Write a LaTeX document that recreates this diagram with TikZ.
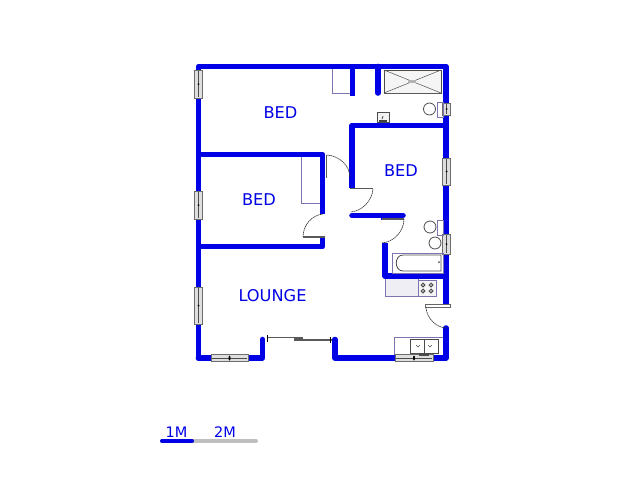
\documentclass[tikz,border=0pt]{standalone}
\usepackage{fontspec}
\setmainfont{DejaVu Sans}
\definecolor{wallblue}{RGB}{0,0,230}
\definecolor{fix}{RGB}{125,115,175}
\tikzset{
  wall/.style={draw=wallblue,line width=5.6pt,line join=round,line cap=round},
  wallb/.style={draw=wallblue,line width=5.6pt,line join=round,line cap=butt},
  win/.style={draw=gray!85!black,fill=gray!25,line width=0.8pt},
  bar/.style={draw=gray!70!black,line width=1.6pt},
  swing/.style={draw=black!80,line width=0.6pt,densely dashed,dash pattern=on 1.5pt off 0.5pt},
  fit/.style={draw=fix,line width=0.8pt},
  san/.style={draw=black!70,line width=0.8pt},
  lbl/.style={text=wallblue,font=\fontsize{16.2}{17}\selectfont,inner sep=0pt,anchor=center},
  scl/.style={text=wallblue,font=\fontsize{14.5}{15}\selectfont,inner sep=0pt,anchor=center}
}
\newcommand{\vwin}[3]{%
  \draw[win] (#1-3.7,#2) rectangle (#1+3.7,#3);
  \draw[draw=gray!60!black,line width=1pt] (#1,#2+1) -- (#1,#3-1);
  \fill[black] (#1,{(#2+#3)/2}) circle (1pt);}
\newcommand{\hwin}[3]{%
  \draw[win] (#1,#3-3.7) rectangle (#2,#3+3.7);
  \draw[draw=gray!60!black,line width=1pt] (#1+1,#3) -- (#2-1,#3);
  \fill[black] ({(#1+#2)/2},#3) ellipse (1pt and 2.5pt);}
\begin{document}
\begin{tikzpicture}[x=1pt,y=-1pt]
\useasboundingbox (0,0) rectangle (640,480);
% fixtures under the walls
\draw[fit] (332,68) rectangle (352,93);
\draw[fit] (301,155) rectangle (322,203);
\draw[fit,fill=fix!12] (385,278) rectangle (418,296);
\draw[fit] (394,337) rectangle (444,356);
% walls
\draw[wall] (198.5,358) -- (198.5,66.5) -- (446,66.5) -- (446,305);
\draw[wall] (446,328) -- (446,358) -- (335,358) -- (335,339.5);
\draw[wall] (198.5,358) -- (262.5,358) -- (262.5,339.5);
\draw[wallb] (198.5,154.5) -- (322.5,154.5) -- (322.5,214);
\draw[wallb] (198.5,246.5) -- (322.5,246.5) -- (322.5,238);
\draw[wallb] (352.5,66.5) -- (352.5,96);
\draw[wall] (378,66.5) -- (378,93);
\draw[wallb] (446,125.5) -- (352,125.5) -- (352,188);
\draw[wall] (352,215.5) -- (403,215.5);
\fill[wallblue] (381,216) rectangle (388,220);
\draw[wallb] (385,243) -- (385,276) -- (446,276);
% doors
\draw[bar] (326.5,155) -- (326.5,178);
\draw[swing] (327,155) .. controls (340,156) and (350,166) .. (350,178);
\draw[bar] (350,188.5) -- (373,188.5);
\draw[swing] (373,189) .. controls (372,201) and (362,211) .. (351,212);
\draw[swing] (323,214) .. controls (312,215) and (303,225) .. (303,237);
\draw[bar] (303,237) -- (325,237);
\draw[bar] (382,219) -- (404,219);
\draw[swing] (404,219) .. controls (404,231) and (394,242) .. (382,243);
\draw[draw=gray!80!black,fill=white,line width=0.7pt] (425,304.5) rectangle (450,307.5);
\draw[swing] (426,308) .. controls (427,318) and (436,328) .. (447,328);
% sliding door
\draw[bar] (267,337.5) -- (298,337.5);
\draw[bar] (298,340) -- (332,340);
\fill[gray!70!black] (294,337) rectangle (303,341);
\draw[black,line width=0.8pt] (267,335) -- (267,342);
\draw[black,line width=0.8pt] (330,337) -- (330,343);
% windows
\vwin{198.5}{70}{98}
\vwin{198.5}{191}{219}
\vwin{198.5}{287}{324}
\vwin{446.5}{103}{115}
\vwin{446.5}{158}{185}
\vwin{446.5}{234}{254}
\hwin{211}{248}{358}
\hwin{395}{433}{358}
% shower
\draw[san,fill=gray!8] (384,70) rectangle (441,93);
\draw[san,line width=0.5pt] (384,70) -- (441,93) (384,93) -- (441,70);
\fill[gray!60] (408,80) rectangle (416,83);
\draw[bar,line width=1.2pt] (384,93.5) -- (441,93.5);
% basin top
\draw[san,fill=gray!10] (377,112) rectangle (389,122);
\fill[black!75] (379,120) rectangle (387,122);
\draw[san] (383,116) -- (382,119);
% toilets
\draw[san] (429.5,109) circle (6pt);
\draw[fit] (437,102) rectangle (443,117);
\draw[san] (430,227) circle (6pt);
\draw[fit] (437,220) rectangle (443,235);
% basin bath room
\draw[san] (435,243) circle (6pt);
\draw[fit] (392,253) rectangle (443,273);
\draw[san] (441,255) -- (403,255) .. controls (394,255) and (394,271) .. (403,271) -- (441,271) -- cycle;
\fill[black!70] (439,262) circle (1pt);
% stove
\draw[fit,fill=gray!8] (418,280) rectangle (436,296);
\foreach \a/\b in {423/285,431/285,423/291,431/291}{\draw[san,line width=1pt] (\a,\b) circle (1.8pt);}
% sink
\draw[san] (410,339) rectangle (424,353);
\draw[san] (424,339) rectangle (438,353);
\draw[san,line width=0.5pt] (416,345) -- (418,347) -- (420,345);
\draw[san,line width=0.5pt] (428,345) -- (430,347) -- (432,345);
\fill[black!70] (419,353) rectangle (429,356);
% labels
\node[lbl] (r1) at (280.5,113) {BED};
\node[lbl] (r2) at (401,170.5) {BED};
\node[lbl] (r3) at (259,200) {BED};
\node[lbl] (r4) at (272.5,296) {LOUNGE};
% scale
\draw[gray!50,line width=4pt,line cap=round] (162,441) -- (256,441);
\draw[wallblue,line width=4pt,line cap=round] (162,441) -- (192,441);
\node[scl] (s1) at (176.5,432) {1M};
\node[scl] (s2) at (225,432) {2M};
\end{tikzpicture}
\end{document}
